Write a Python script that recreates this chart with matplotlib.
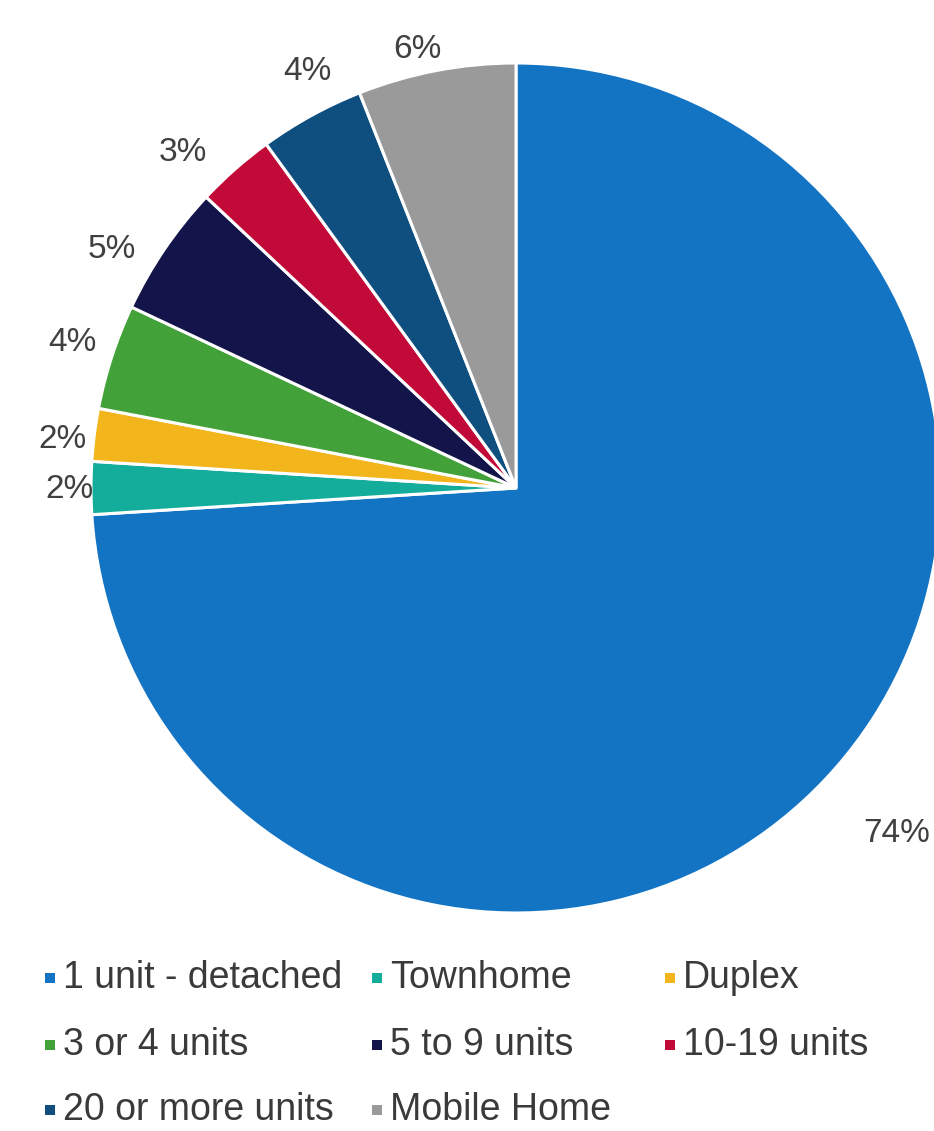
import matplotlib
matplotlib.use("Agg")
import matplotlib.pyplot as plt
import numpy as np

# Share of housing units by structure type
categories = ["1 unit - detached", "Townhome", "Duplex", "3 or 4 units",
              "5 to 9 units", "10-19 units", "20 or more units", "Mobile Home"]
shares = [74, 2, 2, 4, 5, 3, 4, 6]
colors = ["#1474c4", "#14ad9c", "#f2b51c", "#43a13a",
          "#13154a", "#c20a38", "#0f4f80", "#9a9a9a"]
value_labels = ["74%", "2%", "2%", "4%", "5%", "3%", "4%", "6%"]

W, H = 934, 1131
FONT = ["Liberation Sans", "DejaVu Sans"]
fig = plt.figure(figsize=(W / 100, H / 100), dpi=100)
ax = fig.add_axes([0, 0, 1, 1])

cx, cy, R = 516, H - 488, 425
wedges, _ = ax.pie(shares, colors=colors, startangle=90, counterclock=False,
                   center=(cx, cy), radius=R,
                   wedgeprops=dict(edgecolor="white", linewidth=2.2))

# label distance (in radii) and angular nudge (deg) per slice, outside the edge
label_dist = [1.207, 1.05, 1.073, 1.10, 1.107, 1.116, 1.099, 1.061]
label_shift = [1.1, 0, 0.8, -0.4, 3.4, 3.2, -2.3, 1.8]
for w, txt, d, s in zip(wedges, value_labels, label_dist, label_shift):
    mid = np.deg2rad((w.theta1 + w.theta2) / 2 + s)
    ax.text(cx + d * R * np.cos(mid), cy + d * R * np.sin(mid) - 2, txt,
            ha="center", va="center", fontsize=24, color="#404040",
            family=FONT)

ax.set_xlim(0, W)
ax.set_ylim(0, H)
ax.set_aspect("equal")
ax.axis("off")

# legend in three columns
col_x = [45, 372, 665]
row_y = [978, 1045, 1110]
for i, (name, c) in enumerate(zip(categories, colors)):
    r, k = divmod(i, 3)
    x, y = col_x[k], H - row_y[r]
    ax.add_patch(plt.Rectangle((x, y - 5), 10, 10, color=c, lw=0))
    ax.text(x + 18, y, name, ha="left", va="center", fontsize=27,
            color="#3a3a3a", family=FONT)

fig.savefig("out.png", dpi=100, facecolor="white")
